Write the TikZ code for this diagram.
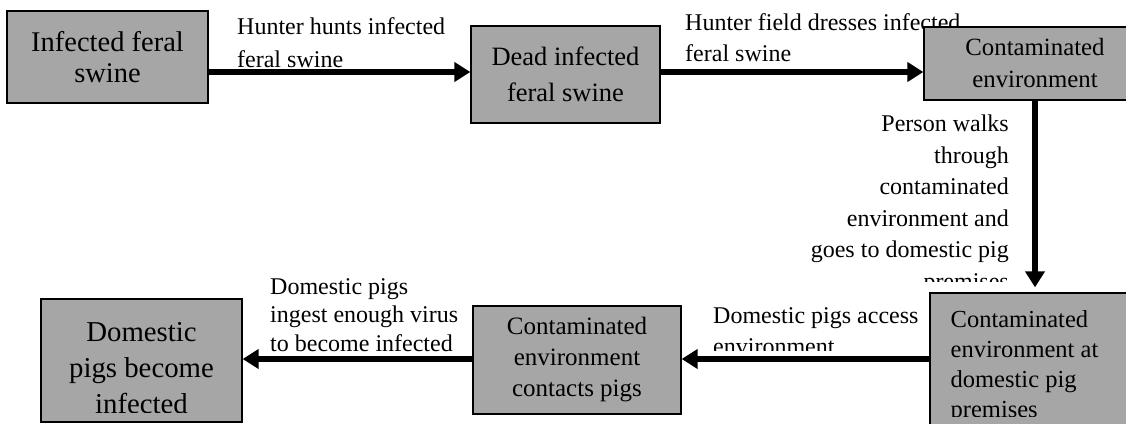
\documentclass[tikz,border=0pt]{standalone}
\usepackage{fontspec}
\setmainfont{Liberation Serif}
\usetikzlibrary{arrows.meta}
\definecolor{boxgray}{HTML}{A6A6A6}
\begin{document}
\begin{tikzpicture}[x=1pt,y=-1pt,
  box/.style={draw=black, line width=1.3pt, fill=boxgray, inner sep=0pt, align=center},
  intext/.style={draw=none, fill=none, inner sep=0pt, minimum width=0pt, minimum height=0pt},
  lbl/.style={inner sep=0pt, font=\fontsize{24}{31}\selectfont},
  conn/.style={line width=5.5pt, -{Triangle[length=16pt 0,width=19pt 0]}}]
\useasboundingbox (0,0) rectangle (1126,423);

% connector labels (drawn first, boxes cover them where the reference does)
\node[lbl, anchor=north west, align=left, font=\fontsize{24}{33}\selectfont] (l1) at (237,17) {Hunter hunts infected\\feral swine};
\node[lbl, anchor=north west, align=left] (l2) at (685,13) {Hunter field dresses infected\\feral swine};
\begin{scope}
  \clip (790,104) rectangle (1020,281);
  \node[lbl, anchor=north east, align=right, font=\fontsize{24}{31.5}\selectfont] (l3) at (1009,115) {Person walks\\through\\contaminated\\environment and\\goes to domestic pig\\premises};
\end{scope}
\begin{scope}
  \clip (700,295) rectangle (928,350);
  \node[lbl, anchor=north west, align=left] (l4) at (713,307) {Domestic pigs access\\environment};
\end{scope}
\node[lbl, anchor=north west, align=left, font=\fontsize{24}{28.5}\selectfont] (l5) at (270,278) {Domestic pigs\\ingest enough virus\\to become infected};

% boxes
\node[box, font=\fontsize{28.5}{31}\selectfont, minimum width=201pt, minimum height=92pt] (b1) at (107.5,57) {Infected feral\\swine};
\node[box, font=\fontsize{26.5}{36}\selectfont, minimum width=189pt, minimum height=97pt] (b2) at (565.5,74.5) {Dead infected\\feral swine};
\node[box, font=\fontsize{24.8}{32}\selectfont, minimum width=222pt, minimum height=73pt] (b3) at (1035,63.5) {Contaminated\\environment};
\node[box, minimum width=210pt, minimum height=147pt,
  path picture={\clip (path picture bounding box.north west) rectangle ([yshift=24pt]path picture bounding box.south east);
    \node[intext, anchor=north west, align=left, font=\fontsize{24.5}{30}\selectfont] at ([xshift=20pt,yshift=-17pt]path picture bounding box.north west) {Contaminated\\environment at\\domestic pig\\premises};}] (b4) at (1035,366.5) {};
\node[box, font=\fontsize{25}{31}\selectfont, minimum width=208pt, minimum height=108pt] (b5) at (577,360) {Contaminated\\environment\\contacts pigs};
\node[box, minimum width=201pt, minimum height=123pt,
  path picture={\clip (path picture bounding box.north west) rectangle ([yshift=10pt]path picture bounding box.south east);
    \node[intext, align=center, font=\fontsize{28.8}{36}\selectfont] at ([yshift=-7.5pt]path picture bounding box.center) {Domestic\\pigs become\\infected};}] (b6) at (141.5,360.5) {};

% connectors
\draw[conn] (b1.east |- 0,72) -- (b2.west |- 0,72);
\draw[conn] (b2.east |- 0,72) -- (b3.west |- 0,72);
\draw[conn, shorten >=5pt] (b3.south) -- (b4.north);
\draw[conn] (b4.west |- 0,359) -- (b5.east |- 0,359);
\draw[conn] (b5.west |- 0,359) -- (b6.east |- 0,359);
\end{tikzpicture}
\end{document}
